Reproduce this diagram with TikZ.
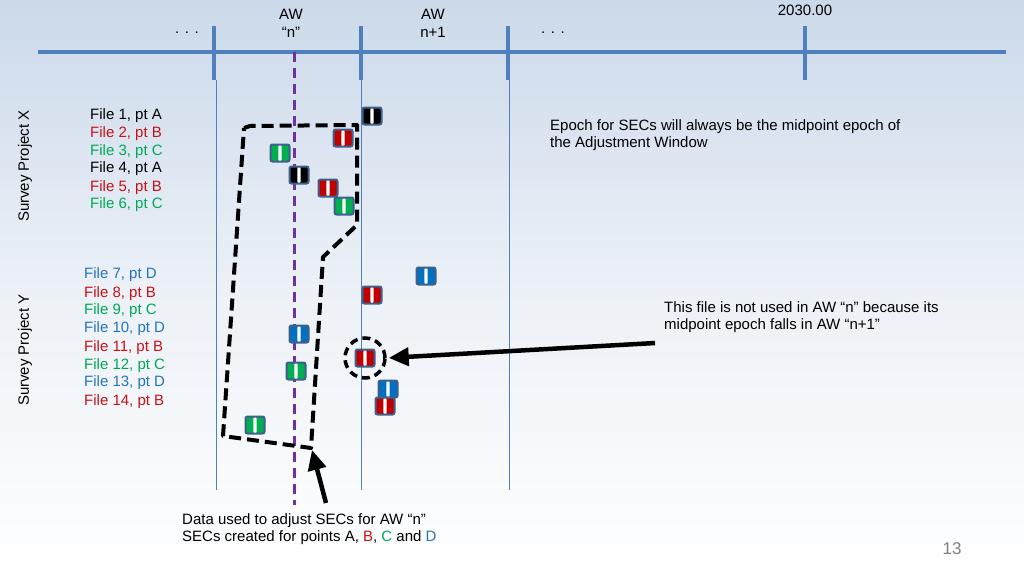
\documentclass[tikz,border=0pt]{standalone}
\usepackage{fontspec}
\setmainfont{Liberation Sans}
\usetikzlibrary{arrows.meta}
\definecolor{tl}{RGB}{79,127,189}
\definecolor{mred}{RGB}{192,0,0}
\definecolor{mgreen}{RGB}{0,176,80}
\definecolor{mblue}{RGB}{0,112,192}
\definecolor{tred}{RGB}{200,16,24}
\definecolor{tgreen}{RGB}{0,168,84}
\definecolor{tblue}{RGB}{36,116,188}
\definecolor{mpurple}{RGB}{112,48,160}
\definecolor{mborder}{RGB}{62,96,138}
\definecolor{bgtop}{RGB}{203,217,234}
\definecolor{bgmid}{RGB}{236,241,247}
\tikzset{
  txt/.style={font=\fontsize{15}{17.5}\selectfont, inner sep=0pt},
  file/.style={txt, anchor=west},
  marker/.style={rectangle, rounded corners=2pt, minimum width=19pt, minimum height=17pt,
    inner sep=0pt, fill=#1, draw=mborder, line width=2pt,
    path picture={\fill[white] ([xshift=-1.6pt]path picture bounding box.south) rectangle ([xshift=1.6pt]path picture bounding box.north);}},
  tick/.style={tl, line width=4.5pt},
  thinv/.style={tl, line width=0.8pt},
  bigdash/.style={black, line width=4pt, dash pattern=on 12pt off 6pt, line join=round},
  bigarrow/.style={black, line width=4.5pt, -{Triangle[length=20pt,width=18pt]}, shorten >=2pt},
}
\begin{document}
\begin{tikzpicture}[x=1pt,y=-1pt]
\useasboundingbox (0,0) rectangle (1024,576);
\shade[top color=bgtop, bottom color=white, middle color=bgmid] (0,0) rectangle (1024,576);

% timeline
\draw[tl, line width=4pt] (38,52) -- (1006,52);
\foreach \x in {214,361,508,805} \draw[tick] (\x,26) -- (\x,80);
\foreach \x in {216,361,509} \draw[thinv] (\x,80) -- (\x,490);
\draw[mpurple, line width=3pt, dash pattern=on 10pt off 6pt] (294,52) -- (294,505);

% top labels
\node[txt] (aw1) at (291,14) {AW};
\node[txt] (aw1n) at (291,32) {“n”};
\node[txt] (aw2) at (433,14) {AW};
\node[txt] (aw2n) at (433,32) {n+1};
\node[txt] (dots1) at (187,33) {. . .};
\node[txt] (dots2) at (553,33) {. . .};
\node[txt] (yr) at (805,10) {2030.00};

% side labels
\node[txt, rotate=90] (spx) at (25,166) {Survey Project X};
\node[txt, rotate=90] (spy) at (25,350) {Survey Project Y};

% file labels
\node[file] (f1) at (90,116) {File 1, pt A};
\node[file, text=tred] (f2) at (90,134) {File 2, pt B};
\node[file, text=tgreen] (f3) at (90,152) {File 3, pt C};
\node[file] (f4) at (90,169) {File 4, pt A};
\node[file, text=tred] (f5) at (90,188) {File 5, pt B};
\node[file, text=tgreen] (f6) at (90,205) {File 6, pt C};
\node[file, text=tblue] (f7) at (84,275) {File 7, pt D};
\node[file, text=tred] (f8) at (84,294) {File 8, pt B};
\node[file, text=tgreen] (f9) at (84,311) {File 9, pt C};
\node[file, text=tblue] (f10) at (84,329) {File 10, pt D};
\node[file, text=tred] (f11) at (84,348) {File 11, pt B};
\node[file, text=tgreen] (f12) at (84,366) {File 12, pt C};
\node[file, text=tblue] (f13) at (84,383) {File 13, pt D};
\node[file, text=tred] (f14) at (84,402) {File 14, pt B};

% data-used polygon
\draw[bigdash] (244,128) -- (250,126) -- (357,125) -- (357,225) -- (323,257) -- (311,448) -- (223,436) -- cycle;

% markers
\node[marker=black] (m1) at (372,116) {};
\node[marker=mred] (m2) at (343,138) {};
\node[marker=mgreen] (m3) at (280,153) {};
\node[marker=black] (m4) at (299,175) {};
\node[marker=mred] (m5) at (328,188) {};
\node[marker=mgreen] (m6) at (344,206) {};
\node[marker=mblue] (m7) at (426,276) {};
\node[marker=mred] (m8) at (372,295) {};
\node[marker=mblue] (m10) at (299,334) {};
\node[marker=mred] (m11) at (365,358) {};
\node[marker=mgreen] (m12) at (296,371) {};
\node[marker=mblue] (m13) at (388,389) {};
\node[marker=mred] (m14) at (385,406) {};
\node[marker=mgreen] (m9) at (255,425) {};

% dashed circle
\node[circle, minimum size=40pt, inner sep=0pt, draw=black, line width=3.5pt, dash pattern=on 8pt off 5pt] (circ) at (365,358) {};

% texts
\node[txt, anchor=west, align=left] (epoch) at (550,135) {Epoch for SECs will always be the midpoint epoch of\\the Adjustment Window};
\node[txt, anchor=west, align=left] (notused) at (664,317) {This file is not used in AW “n” because its\\midpoint epoch falls in AW “n+1”};
\node[txt, anchor=west, align=left] (dataused) at (182,529) {Data used to adjust SECs for AW “n”\\SECs created for points A, \textcolor{tred}{B}, \textcolor{tgreen}{C} and \textcolor{tblue}{D}};
\node[txt, text=gray, font=\fontsize{17}{20}\selectfont] (pg) at (952,549) {13};

% arrows
\coordinate (a1s) at (655,343);
\coordinate (a2s) at (326,503);
\coordinate (polyc) at (312,450);
\draw[bigarrow] (a1s) -- (circ.east);
\draw[bigarrow, shorten >=0pt] (a2s) -- (polyc);
\end{tikzpicture}
\end{document}
